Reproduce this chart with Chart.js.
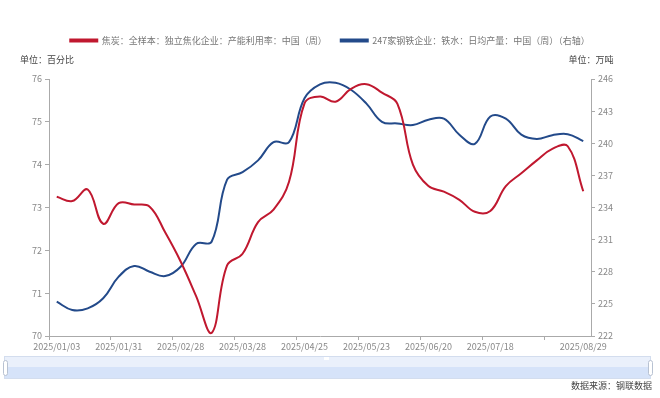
<!DOCTYPE html>
<html>
<head>
<meta charset="utf-8">
<script src="https://cdn.jsdelivr.net/npm/chart.js@4"></script>
<style>
  body { margin: 0; background: #fff; }
  #wrap { width: 660px; height: 398px; }
</style>
</head>
<body>
<div id="wrap"><canvas id="c" width="660" height="398"></canvas></div>
<script>
// 周度日期
const dates = [
  '2025/01/03','2025/01/10','2025/01/17','2025/01/24','2025/01/31','2025/02/07','2025/02/14',
  '2025/02/21','2025/02/28','2025/03/07','2025/03/14','2025/03/21','2025/03/28','2025/04/04',
  '2025/04/11','2025/04/18','2025/04/25','2025/05/02','2025/05/09','2025/05/16','2025/05/23',
  '2025/05/30','2025/06/06','2025/06/13','2025/06/20','2025/06/27','2025/07/04','2025/07/11',
  '2025/07/18','2025/07/25','2025/08/01','2025/08/08','2025/08/15','2025/08/22','2025/08/29'
];
// 焦化企业产能利用率（左轴，%）
const cokeRate = [
  73.25, 73.15, 73.42, 72.62, 73.1, 73.07, 73.02, 72.42, 71.74, 70.93,
  70.07, 71.65, 71.92, 72.66, 72.95, 73.6, 75.43, 75.59, 75.47, 75.77,
  75.88, 75.68, 75.42, 74.0, 73.5, 73.37, 73.18, 72.9, 72.92, 73.5,
  73.8, 74.1, 74.37, 74.43, 73.38
];
// 247家钢企铁水日均产量（右轴，万吨）
const hotMetal = [
  225.2, 224.43, 224.58, 225.52, 227.54, 228.54, 228.0, 227.6, 228.47, 230.6,
  230.8, 236.6, 237.3, 238.4, 240.1, 240.1, 244.2, 245.5, 245.65, 245.0,
  243.7, 242.0, 241.85, 241.7, 242.2, 242.3, 240.8, 239.95, 242.5, 242.3,
  240.8, 240.4, 240.75, 240.85, 240.2
];
const seriesNames = ['焦炭：全样本：独立焦化企业：产能利用率：中国（周）', '247家钢铁企业：铁水：日均产量：中国（周）（右轴）'];

const cjk = '"Noto Sans CJK SC", "Noto Sans", sans-serif';
const axisGray = '#aaa';

// 单位、数据来源、区域缩放条
const extras = {
  id: 'extras',
  afterInit(chart) {
    const orig = chart.legend.fit;
    chart.legend.fit = function () { orig.call(this); this.height = 57; };
  },
  afterDraw(chart) {
    const ctx = chart.ctx;
    const a = chart.chartArea;
    ctx.save();
    ctx.font = '9px ' + cjk;
    ctx.fillStyle = '#444';
    ctx.textBaseline = 'middle';
    ctx.textAlign = 'center';
    ctx.fillText('单位：百分比', a.left - 2, 60);
    ctx.fillText('单位：万吨', a.right, 60);
    ctx.textAlign = 'right';
    ctx.fillText('数据来源：钢联数据', 652, 386);
    // slider
    ctx.fillStyle = '#eaf0fb';
    ctx.fillRect(4, 356, 647, 23);
    ctx.fillStyle = '#d6e3f9';
    ctx.fillRect(4, 367, 647, 12);
    ctx.strokeStyle = '#d3ddee';
    ctx.lineWidth = 1;
    ctx.strokeRect(4.5, 356.5, 646, 22);
    ctx.fillStyle = '#fff';
    ctx.strokeStyle = '#b8c2d2';
    [[3, 360], [648, 360]].forEach(p => {
      ctx.beginPath();
      ctx.roundRect(p[0] + 0.5, p[1] + 0.5, 4, 15, 2);
      ctx.fill();
      ctx.stroke();
    });
    ctx.fillStyle = '#fff';
    ctx.fillRect(324, 357, 5, 3);
    ctx.restore();
  }
};

new Chart(document.getElementById('c').getContext('2d'), {
  type: 'line',
  data: {
    labels: dates,
    datasets: [{
      label: seriesNames[0],
      data: cokeRate,
      borderColor: '#c0182f',
      backgroundColor: '#c0182f',
      borderWidth: 2,
      pointRadius: 0,
      tension: 0.4,
      yAxisID: 'y'
    }, {
      label: seriesNames[1],
      data: hotMetal,
      borderColor: '#234a8a',
      backgroundColor: '#234a8a',
      borderWidth: 2,
      pointRadius: 0,
      tension: 0.4,
      yAxisID: 'y1'
    }]
  },
  options: {
    responsive: false,
    animation: false,
    layout: { padding: { top: 22, left: 0, right: 0, bottom: 42 } },
    plugins: {
      legend: {
        position: 'top',
        labels: {
          boxWidth: 27,
          boxHeight: 2,
          padding: 14,
          color: '#777',
          font: { family: cjk, size: 9 }
        }
      },
      tooltip: { enabled: false }
    },
    scales: {
      x: {
        offset: true,
        grid: {
          offset: true,
          drawOnChartArea: false,
          tickLength: 4,
          tickColor: c => (c.index % 4 === 0 ? axisGray : 'rgba(0,0,0,0)')
        },
        border: { color: axisGray, width: 1 },
        ticks: {
          autoSkip: false,
          maxRotation: 0,
          padding: 1,
          color: '#888',
          font: { family: cjk, size: 9 },
          callback: function (v, i) {
            if ((i % 4 === 0 && i !== 32) || i === 34) return dates[i];
            return '';
          }
        },
        afterFit: s => { s.height = 20; }
      },
      y: {
        position: 'left',
        min: 70, max: 76,
        ticks: { stepSize: 1, color: '#888', padding: 3, font: { family: cjk, size: 9 } },
        grid: { drawOnChartArea: false, tickLength: 4, color: axisGray },
        border: { color: axisGray, width: 1 },
        afterFit: s => { s.width = 49; }
      },
      y1: {
        position: 'right',
        min: 222, max: 246,
        ticks: { stepSize: 3, color: '#888', padding: 3, font: { family: cjk, size: 9 } },
        grid: { drawOnChartArea: false, tickLength: 4, color: axisGray },
        border: { color: axisGray, width: 1 },
        afterFit: s => { s.width = 69; }
      }
    }
  },
  plugins: [extras]
});
</script>
</body>
</html>
